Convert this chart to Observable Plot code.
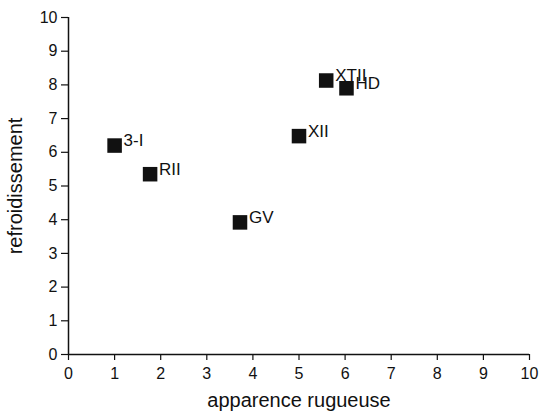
<!DOCTYPE html>
<html>
<head>
<meta charset="utf-8">
<script src="https://cdn.jsdelivr.net/npm/d3@7"></script>
<script src="https://cdn.jsdelivr.net/npm/@observablehq/plot@0.6"></script>
<style>
  html, body { margin: 0; padding: 0; background: #fff; }
  #chart svg { display: block; }
</style>
</head>
<body>
<div id="chart"></div>
<script>
const samples = ["3-I", "RII", "GV", "XII", "XTII", "HD"];
const rugueuse = [1.0, 1.77, 3.72, 5.0, 5.59, 6.03];
const refroidissement = [6.2, 5.35, 3.92, 6.48, 8.13, 7.9];
const tickValues = [0, 1, 2, 3, 4, 5, 6, 7, 8, 9, 10];

const data = samples.map((s, i) => ({name: s, x: rugueuse[i], y: refroidissement[i]}));

const chart = Plot.plot({
  width: 545,
  height: 415,
  marginLeft: 68,
  marginRight: 16,
  marginTop: 17,
  marginBottom: 61,
  style: {fontFamily: "'Liberation Sans', Arial, Helvetica, sans-serif", fontSize: "16px", color: "#111", background: "#fff"},
  x: {domain: [0, 10], ticks: tickValues},
  y: {domain: [0, 10], ticks: tickValues},
  marks: [
    Plot.axisX({ticks: tickValues, tickSize: 6, tickPadding: 7, label: null, fontSize: 16, strokeWidth: 1.2}),
    Plot.axisX({ticks: [], label: "apparence rugueuse", labelAnchor: "center", labelArrow: "none", labelOffset: 52, fontSize: 20}),
    Plot.axisY({ticks: tickValues, tickSize: 7, tickPadding: 4, label: null, fontSize: 16, strokeWidth: 1.2}),
    Plot.axisY({ticks: [], label: "refroidissement", labelAnchor: "center", labelArrow: "none", labelOffset: 61, fontSize: 20}),
    Plot.ruleX([0], {stroke: "#111", strokeWidth: 1.5}),
    Plot.ruleY([0], {stroke: "#111", strokeWidth: 1.5}),
    Plot.dot(data, {x: "x", y: "y", symbol: "square", r: 8.2, fill: "#111", stroke: "none"}),
    Plot.text(data, {x: "x", y: "y", text: "name", textAnchor: "start", dx: 9, dy: -5, fontSize: 17, fill: "#111"})
  ]
});
document.getElementById("chart").append(chart);
</script>
</body>
</html>
